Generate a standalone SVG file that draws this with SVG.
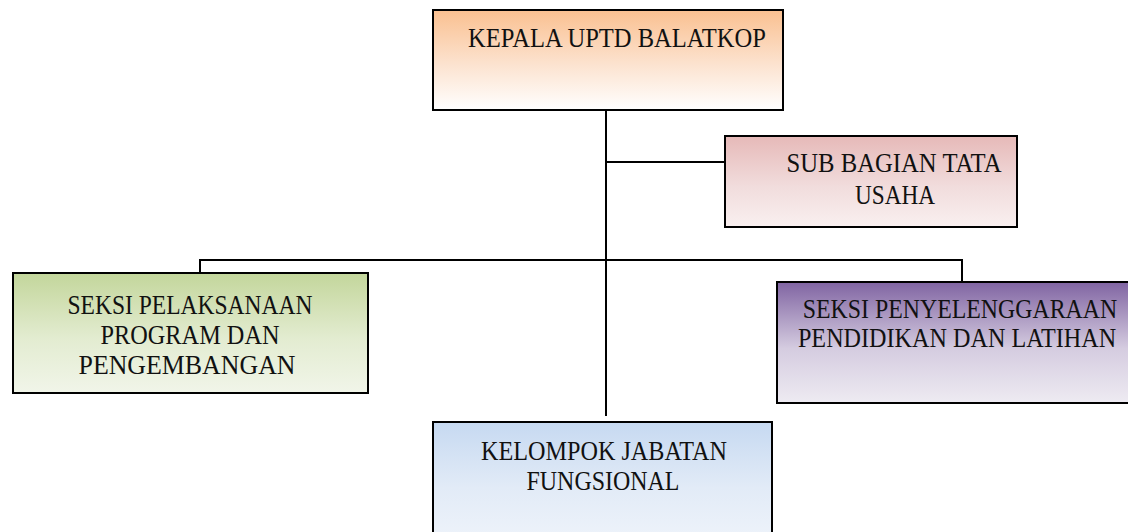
<svg xmlns="http://www.w3.org/2000/svg" width="1128" height="532" viewBox="0 0 1128 532">
<defs>
<linearGradient id="gOrange" x1="0" y1="0" x2="0" y2="1"><stop offset="0" stop-color="#FAC090"/><stop offset="0.55" stop-color="#FCE3D0"/><stop offset="1" stop-color="#FFFFFF"/></linearGradient>
<linearGradient id="gPink" x1="0" y1="0" x2="0" y2="1"><stop offset="0" stop-color="#E6B9B8"/><stop offset="0.55" stop-color="#F1DCDC"/><stop offset="1" stop-color="#F9F0F0"/></linearGradient>
<linearGradient id="gGreen" x1="0" y1="0" x2="0" y2="1"><stop offset="0" stop-color="#C3D69B"/><stop offset="0.55" stop-color="#E3ECD1"/><stop offset="1" stop-color="#F1F5E9"/></linearGradient>
<linearGradient id="gPurple" x1="0" y1="0" x2="0" y2="1"><stop offset="0" stop-color="#8064A2"/><stop offset="0.55" stop-color="#D5CCE0"/><stop offset="1" stop-color="#EEEBF2"/></linearGradient>
<linearGradient id="gBlue" x1="0" y1="0" x2="0" y2="1"><stop offset="0" stop-color="#C6D9F1"/><stop offset="0.55" stop-color="#E2EBF7"/><stop offset="1" stop-color="#EEF3FA"/></linearGradient>
</defs>
<style>
.box{stroke:#000;stroke-width:2}
.lbl{font-family:"Liberation Serif","DejaVu Serif",serif;font-size:26.5px;fill:#111;text-anchor:middle}
.con{stroke:#000;stroke-width:2;fill:none}
</style>
<rect width="1128" height="532" fill="#fff"/>
<g id="connectors">
<line class="con" x1="606" y1="110" x2="606" y2="416"/>
<line class="con" x1="606" y1="162" x2="725" y2="162"/>
<polyline class="con" points="200,273 200,260 962,260 962,282"/>
</g>
<g id="kepala">
<rect class="box" x="433" y="10" width="350" height="100" fill="url(#gOrange)"/>
<text class="lbl" x="617" y="46.5" textLength="298" lengthAdjust="spacingAndGlyphs">KEPALA UPTD BALATKOP</text>
</g>
<g id="subbagian">
<rect class="box" x="725" y="136" width="292" height="91" fill="url(#gPink)"/>
<text class="lbl" x="894" y="172" textLength="215" lengthAdjust="spacingAndGlyphs">SUB BAGIAN TATA</text>
<text class="lbl" x="895" y="203.5" textLength="80" lengthAdjust="spacingAndGlyphs">USAHA</text>
</g>
<g id="seksi-program">
<rect class="box" x="13" y="273" width="355" height="120" fill="url(#gGreen)"/>
<text class="lbl" x="190" y="314" textLength="245" lengthAdjust="spacingAndGlyphs">SEKSI PELAKSANAAN</text>
<text class="lbl" x="190" y="344" textLength="179" lengthAdjust="spacingAndGlyphs">PROGRAM DAN</text>
<text class="lbl" x="187" y="374" textLength="217" lengthAdjust="spacingAndGlyphs">PENGEMBANGAN</text>
</g>
<g id="seksi-diklat">
<rect class="box" x="777" y="282" width="352" height="121" fill="url(#gPurple)"/>
<text class="lbl" transform="translate(960,318) scale(0.9,1)" x="0" y="0">SEKSI PENYELENGGARAAN</text>
<text class="lbl" transform="translate(957,347) scale(0.912,1)" x="0" y="0">PENDIDIKAN DAN LATIHAN</text>
</g>
<g id="fungsional">
<rect class="box" x="433" y="422" width="339" height="120" fill="url(#gBlue)"/>
<text class="lbl" x="604" y="460" textLength="246" lengthAdjust="spacingAndGlyphs">KELOMPOK JABATAN</text>
<text class="lbl" x="603" y="490" textLength="153" lengthAdjust="spacingAndGlyphs">FUNGSIONAL</text>
</g>
</svg>
